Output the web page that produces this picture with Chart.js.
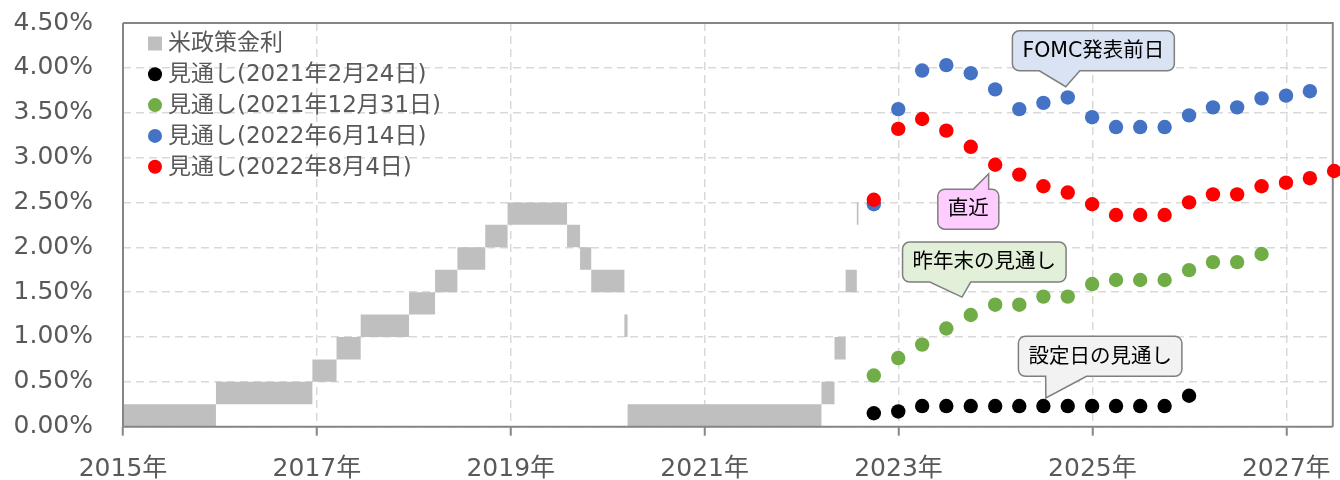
<!DOCTYPE html>
<html lang="ja">
<head>
<meta charset="utf-8">
<title>米政策金利と市場の見通し</title>
<script src="https://cdn.jsdelivr.net/npm/chart.js@4.4.1/dist/chart.umd.min.js"></script>
<style>
  html, body { margin: 0; padding: 0; background: #fff; }
</style>
</head>
<body>
<canvas id="chart" width="1340" height="480"></canvas>
<script>
// FF target range: dates of change and the band bounds (%)
const policyDates = ['2015-01-01', '2015-12-17', '2016-12-15', '2017-03-16', '2017-06-15', '2017-12-14',
  '2018-03-22', '2018-06-14', '2018-09-27', '2018-12-20', '2019-08-01', '2019-09-19', '2019-10-31',
  '2020-03-04', '2020-03-16', '2022-03-17', '2022-05-05', '2022-06-16', '2022-07-28', '2022-08-04'];
const policyLower = [0, 0.25, 0.5, 0.75, 1.0, 1.25, 1.5, 1.75, 2.0, 2.25, 2.0, 1.75, 1.5, 1.0, 0, 0.25, 0.75, 1.5, 2.25, 2.25];
const policyUpper = [0.25, 0.5, 0.75, 1.0, 1.25, 1.5, 1.75, 2.0, 2.25, 2.5, 2.25, 2.0, 1.75, 1.25, 0.25, 0.5, 1.0, 1.75, 2.5, 2.5];

// market outlook, quarter ends
const outlookDates = ['2022-09-30', '2022-12-31', '2023-03-31', '2023-06-30', '2023-09-30', '2023-12-31',
  '2024-03-31', '2024-06-30', '2024-09-30', '2024-12-31', '2025-03-31', '2025-06-30', '2025-09-30',
  '2025-12-31', '2026-03-31', '2026-06-30', '2026-09-30', '2026-12-31', '2027-03-31', '2027-06-30'];
const outlookFeb21 = [0.15, 0.17, 0.23, 0.23, 0.23, 0.23, 0.23, 0.23, 0.23, 0.23, 0.23, 0.23, 0.23, 0.345];
const outlookDec21 = [0.57, 0.765, 0.915, 1.095, 1.245, 1.36, 1.36, 1.45, 1.45, 1.59, 1.635, 1.635, 1.635, 1.745, 1.835, 1.835, 1.925];
const outlookJun22 = [2.48, 3.54, 3.97, 4.03, 3.94, 3.76, 3.54, 3.61, 3.67, 3.45, 3.34, 3.34, 3.34, 3.47, 3.56, 3.56, 3.66, 3.69, 3.74];
const outlookAug22 = [2.53, 3.32, 3.43, 3.30, 3.12, 2.92, 2.81, 2.68, 2.61, 2.48, 2.36, 2.36, 2.36, 2.50, 2.59, 2.59, 2.68, 2.72, 2.77, 2.85];

const seriesNames = ['米政策金利', '見通し(2021年2月24日)', '見通し(2021年12月31日)', '見通し(2022年6月14日)', '見通し(2022年8月4日)'];
const seriesColors = ['#bfbfbf', '#000000', '#70ad47', '#4472c4', '#ff0000'];
const xTickYears = [2015, 2017, 2019, 2021, 2023, 2025, 2027];

const callouts = [
  { text: 'FOMC発表前日', fill: '#dae3f3', box: [2025.01, 4.19], tip: [2024.725, 3.79] },
  { text: '直近', fill: '#ffccff', box: [2023.72, 2.425], tip: [2023.93, 2.82] },
  { text: '昨年末の見通し', fill: '#e2f0d9', box: [2023.885, 1.835], tip: [2023.655, 1.445] },
  { text: '設定日の見通し', fill: '#f2f2f2', box: [2025.08, 0.785], tip: [2024.52, 0.32] }
];

const FONT = '"DejaVu Sans", "Noto Sans CJK JP", sans-serif';

const toYear = (s) => {
  const [y, m, d] = s.split('-').map(Number);
  const start = Date.UTC(y, 0, 1);
  const end = Date.UTC(y + 1, 0, 1);
  return y + (Date.UTC(y, m - 1, d) - start) / (end - start);
};
const pts = (dates, vals) => vals.map((v, i) => ({ x: toYear(dates[i]), y: v }));

const dots = (idx, vals, order) => ({
  label: seriesNames[idx],
  data: pts(outlookDates, vals),
  showLine: false,
  backgroundColor: seriesColors[idx],
  borderWidth: 0,
  pointRadius: 7.2,
  pointHoverRadius: 7.2,
  clip: false,
  order: order
});

function drawCallout(ctx, c, xs, ys) {
  ctx.font = '20.5px ' + FONT;
  const w = ctx.measureText(c.text).width + 20, h = 40, r = 7;
  const cx = xs.getPixelForValue(c.box[0]), cy = ys.getPixelForValue(c.box[1]);
  const L = cx - w / 2, T = cy - h / 2, R = L + w, B = T + h;
  const tx = xs.getPixelForValue(c.tip[0]), ty = ys.getPixelForValue(c.tip[1]);
  const f = tx < cx ? [1 / 6, 5 / 12] : [7 / 12, 5 / 6];
  const b1 = L + w * f[0], b2 = L + w * f[1];
  ctx.beginPath();
  ctx.moveTo(L + r, T);
  if (ty < T) { ctx.lineTo(b1, T); ctx.lineTo(tx, ty); ctx.lineTo(b2, T); }
  ctx.lineTo(R - r, T);
  ctx.arcTo(R, T, R, T + r, r);
  ctx.lineTo(R, B - r);
  ctx.arcTo(R, B, R - r, B, r);
  if (ty > B) { ctx.lineTo(b2, B); ctx.lineTo(tx, ty); ctx.lineTo(b1, B); }
  ctx.lineTo(L + r, B);
  ctx.arcTo(L, B, L, B - r, r);
  ctx.lineTo(L, T + r);
  ctx.arcTo(L, T, L + r, T, r);
  ctx.closePath();
  ctx.fillStyle = c.fill;
  ctx.fill();
  ctx.strokeStyle = '#7f7f7f';
  ctx.lineWidth = 1.5;
  ctx.stroke();
  ctx.fillStyle = '#000';
  ctx.textAlign = 'center';
  ctx.textBaseline = 'middle';
  ctx.fillText(c.text, cx, cy + 1);
}

const decor = {
  id: 'decor',
  beforeDatasetsDraw(chart) {
    const { ctx, chartArea: a } = chart;
    ctx.save();
    ctx.strokeStyle = '#868686';
    ctx.lineWidth = 2;
    ctx.beginPath();
    ctx.moveTo(a.left, a.top);
    ctx.lineTo(a.right, a.top);
    ctx.lineTo(a.right, a.bottom);
    ctx.stroke();
    ctx.restore();
  },
  afterDatasetsDraw(chart) {
    const { ctx, chartArea: a, scales } = chart;
    ctx.save();
    // axis lines over the band
    ctx.strokeStyle = '#868686';
    ctx.lineWidth = 2;
    ctx.beginPath();
    ctx.moveTo(a.left, a.top);
    ctx.lineTo(a.left, a.bottom);
    ctx.lineTo(a.right, a.bottom);
    ctx.stroke();

    callouts.forEach(c => drawCallout(ctx, c, scales.x, scales.y));

    // legend
    ctx.font = '23px ' + FONT;
    ctx.textAlign = 'left';
    ctx.textBaseline = 'middle';
    seriesNames.forEach((name, i) => {
      const y = a.top + 20.5 + i * 30.8;
      ctx.fillStyle = seriesColors[i];
      if (i === 0) {
        ctx.fillRect(a.left + 25, y - 7, 14, 14);
      } else {
        ctx.beginPath();
        ctx.arc(a.left + 32, y, 7, 0, Math.PI * 2);
        ctx.fill();
      }
      ctx.fillStyle = '#595959';
      ctx.fillText(name, a.left + 45, y + 1);
    });
    ctx.restore();
  }
};

new Chart(document.getElementById('chart'), {
  type: 'line',
  data: {
    datasets: [
      dots(4, outlookAug22, 0),
      dots(3, outlookJun22, 1),
      dots(2, outlookDec21, 2),
      dots(1, outlookFeb21, 3),
      {
        label: 'lower',
        data: pts(policyDates, policyLower),
        stepped: true,
        borderColor: 'rgba(0,0,0,0)',
        borderWidth: 0,
        pointRadius: 0,
        fill: false,
        order: 5
      },
      {
        label: seriesNames[0],
        data: pts(policyDates, policyUpper),
        stepped: true,
        borderColor: 'rgba(0,0,0,0)',
        borderWidth: 0,
        pointRadius: 0,
        backgroundColor: seriesColors[0],
        fill: '-1',
        order: 4
      }
    ]
  },
  options: {
    responsive: false,
    animation: false,
    devicePixelRatio: 1,
    layout: { padding: { top: 23, right: 6, left: 0, bottom: 0 } },
    plugins: {
      legend: { display: false },
      tooltip: { enabled: false }
    },
    scales: {
      x: {
        type: 'linear',
        min: 2015,
        max: 2027.48,
        afterBuildTicks: (s) => { s.ticks = xTickYears.map(v => ({ value: v })); },
        afterFit: (s) => {
          s.height = 53.3;
          s.paddingTop = 0; s.paddingBottom = 0; s.paddingLeft = 0; s.paddingRight = 0;
        },
        border: { display: false, dash: [8, 5] },
        grid: { color: '#d9d9d9', lineWidth: 1.5, drawTicks: true, tickLength: 9, tickColor: '#868686', tickWidth: 2, tickBorderDash: [] },
        ticks: {
          autoSkip: false,
          maxRotation: 0,
          padding: 19,
          color: '#595959',
          font: { family: FONT, size: 25 },
          callback: (v) => v + '年'
        }
      },
      y: {
        min: 0,
        max: 4.5,
        afterFit: (s) => { s.width = 123; s.paddingTop = 0; s.paddingBottom = 0; },
        border: { display: false, dash: [8, 5] },
        grid: { color: '#d9d9d9', lineWidth: 1.5, drawTicks: false },
        ticks: {
          stepSize: 0.5,
          padding: 30,
          color: '#595959',
          font: { family: FONT, size: 25 },
          callback: (v) => v.toFixed(2) + '%'
        }
      }
    }
  },
  plugins: [decor]
});
</script>
</body>
</html>
